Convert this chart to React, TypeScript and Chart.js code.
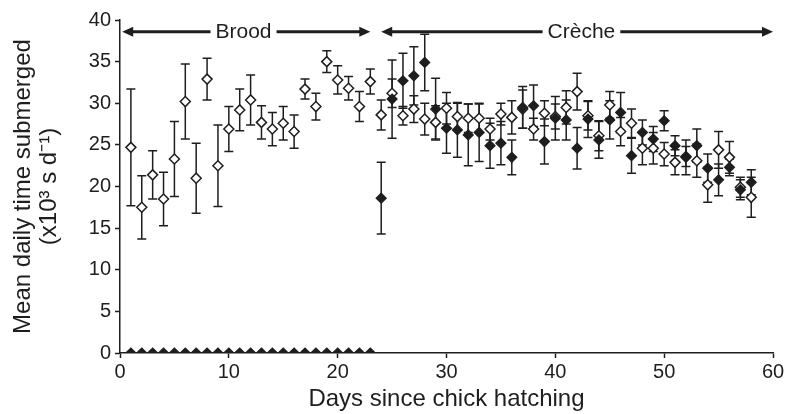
import React, { useEffect, useRef } from "react";
import { Chart, registerables } from "chart.js";

Chart.register(...registerables);

// ---- Data ----
const openDays = [1, 2, 3, 4, 5, 6, 7, 8, 9, 10, 11, 12, 13, 14, 15, 16, 17, 18, 19, 20, 21, 22, 23, 24, 25, 26, 27, 28, 29, 30, 31, 32, 33, 34, 35, 36, 37, 38, 39, 40, 41, 42, 43, 44, 45, 46, 47, 48, 49, 50, 51, 52, 53, 54, 55, 56, 57, 58];
const openMean = [24.7, 17.5, 21.4, 18.5, 23.3, 30.2, 21.0, 32.9, 22.5, 26.9, 29.2, 30.4, 27.7, 26.9, 27.6, 26.6, 31.7, 29.6, 35.0, 32.8, 31.8, 29.6, 32.6, 28.6, 31.2, 28.5, 29.3, 28.1, 27.7, 29.4, 28.4, 28.2, 28.2, 26.9, 28.7, 28.3, 29.3, 26.9, 28.8, 28.4, 29.5, 31.4, 28.5, 26.1, 29.8, 26.6, 27.6, 24.6, 24.6, 23.9, 22.9, 23.6, 23.1, 20.2, 24.4, 23.5, 19.9, 18.7];
const openErr = [7.0, 3.8, 2.9, 3.2, 4.5, 4.5, 4.2, 2.5, 4.9, 2.7, 2.5, 3.0, 2.0, 2.0, 2.0, 2.0, 1.2, 1.6, 1.3, 1.7, 1.4, 1.8, 1.5, 1.8, 1.7, 1.1, 1.6, 1.9, 2.0, 1.9, 1.6, 1.7, 1.7, 1.3, 1.3, 2.0, 2.3, 1.3, 1.5, 1.5, 2.0, 2.2, 1.7, 1.8, 1.6, 1.7, 1.7, 2.0, 1.9, 1.4, 1.5, 1.2, 2.0, 2.1, 2.2, 1.9, 1.2, 2.4];

const filledDays = [1, 2, 3, 4, 5, 6, 7, 8, 9, 10, 11, 12, 13, 14, 15, 16, 17, 18, 19, 20, 21, 22, 23, 24, 25, 26, 27, 28, 29, 30, 31, 32, 33, 34, 35, 36, 37, 38, 39, 40, 41, 42, 43, 44, 45, 46, 47, 48, 49, 50, 51, 52, 53, 54, 55, 56, 57, 58];
const filledMean = [0, 0, 0, 0, 0, 0, 0, 0, 0, 0, 0, 0, 0, 0, 0, 0, 0, 0, 0, 0, 0, 0, 0, 18.6, 30.5, 32.7, 33.3, 34.9, 29.3, 27.0, 26.8, 26.2, 26.5, 24.9, 25.2, 23.5, 29.5, 29.7, 25.4, 28.2, 28.0, 24.6, 28.1, 25.6, 28.0, 28.9, 23.7, 26.5, 25.7, 27.9, 24.9, 23.5, 24.9, 22.2, 20.8, 22.3, 19.6, 20.5];
const filledErr = [0, 0, 0, 0, 0, 0, 0, 0, 0, 0, 0, 0, 0, 0, 0, 0, 0, 0, 0, 0, 0, 0, 0, 4.3, 4.7, 3.3, 3.5, 3.4, 3.7, 3.0, 3.3, 3.7, 3.5, 2.7, 2.6, 2.1, 2.5, 2.5, 2.7, 2.6, 2.4, 2.5, 2.2, 2.2, 2.3, 2.4, 2.1, 1.5, 1.5, 1.2, 1.2, 2.1, 2.0, 1.7, 1.9, 1.0, 1.2, 1.5];

const phaseNames = ["Brood", "Crèche"];
const phaseStart = [0.2, 24];
const phaseEnd = [23, 60];
const phaseLabelAt = [11.35, 42.4];
const phaseLevel = 38.6;

const xTicksMin = 0;
const xTicksMax = 60;
const yTicksMin = 0;
const yTicksMax = 40;

const FONT = "'Liberation Sans', Arial, Helvetica, sans-serif";
const INK = "#1e1e1e";

const errorBarPlugin = {
  id: "errorBars",
  beforeDatasetsDraw(chart: any) {
    const { ctx, scales } = chart;
    const xs = scales.x;
    const ys = scales.y;
    ctx.save();
    ctx.strokeStyle = INK;
    ctx.lineWidth = 1.5;
    chart.data.datasets.forEach((ds: any) => {
      const errs = ds.errors;
      if (!errs) return;
      ds.data.forEach((p: any, i: number) => {
        const e = errs[i];
        if (!e) return;
        const px = xs.getPixelForValue(p.x);
        const top = ys.getPixelForValue(p.y + e);
        const bot = ys.getPixelForValue(p.y - e);
        ctx.beginPath();
        ctx.moveTo(px, top);
        ctx.lineTo(px, bot);
        ctx.moveTo(px - 4.5, top);
        ctx.lineTo(px + 4.5, top);
        ctx.moveTo(px - 4.5, bot);
        ctx.lineTo(px + 4.5, bot);
        ctx.stroke();
      });
    });
    ctx.restore();
  },
};

const phasePlugin = {
  id: "phases",
  afterDraw(chart: any) {
    const { ctx, scales } = chart;
    const xs = scales.x;
    const ys = scales.y;
    const py = ys.getPixelForValue(phaseLevel);
    ctx.save();
    ctx.font = `21px ${FONT}`;
    ctx.textAlign = "center";
    ctx.textBaseline = "middle";
    phaseNames.forEach((name, i) => {
      const x0 = xs.getPixelForValue(phaseStart[i]);
      const x1 = xs.getPixelForValue(phaseEnd[i]);
      const xc = xs.getPixelForValue(phaseLabelAt[i]);
      const w = ctx.measureText(name).width;
      const gap = 5;
      const head = 11;
      const hh = 5;
      ctx.strokeStyle = INK;
      ctx.fillStyle = INK;
      ctx.lineWidth = 3;
      ctx.beginPath();
      ctx.moveTo(x0 + head - 1, py);
      ctx.lineTo(xc - w / 2 - gap, py);
      ctx.moveTo(xc + w / 2 + gap, py);
      ctx.lineTo(x1 - head + 1, py);
      ctx.stroke();
      ctx.beginPath();
      ctx.moveTo(x0, py);
      ctx.lineTo(x0 + head, py - hh);
      ctx.lineTo(x0 + head, py + hh);
      ctx.closePath();
      ctx.fill();
      ctx.beginPath();
      ctx.moveTo(x1, py);
      ctx.lineTo(x1 - head, py - hh);
      ctx.lineTo(x1 - head, py + hh);
      ctx.closePath();
      ctx.fill();
      ctx.fillText(name, xc, py + 1);
    });
    ctx.restore();
  },
};

export default function App() {
  const ref = useRef<HTMLCanvasElement | null>(null);

  useEffect(() => {
    if (!ref.current) return;
    const filledData = filledDays.map((d, i) => ({ x: d, y: filledMean[i] }));
    const openData = openDays.map((d, i) => ({ x: d, y: openMean[i] }));
    const chart = new Chart(ref.current, {
      type: "scatter",
      data: {
        datasets: [
          {
            label: "Filled",
            data: filledData,
            errors: filledErr,
            pointStyle: "rectRot",
            pointRadius: 5,
            pointBackgroundColor: INK,
            pointBorderColor: INK,
            pointBorderWidth: 1.2,
          } as any,
          {
            label: "Open",
            data: openData,
            errors: openErr,
            pointStyle: "rectRot",
            pointRadius: 5,
            pointBackgroundColor: "#ffffff",
            pointBorderColor: INK,
            pointBorderWidth: 1.5,
          } as any,
        ],
      },
      options: {
        responsive: false,
        animation: false,
        events: [],
        layout: { padding: { top: 20, right: 14, left: 0, bottom: 0 } },
        plugins: {
          legend: { display: false },
          tooltip: { enabled: false },
        },
        scales: {
          x: {
            type: "linear",
            min: xTicksMin,
            max: xTicksMax,
            afterFit: (s: any) => {
              s.height = 61;
            },
            ticks: {
              stepSize: 10,
              color: INK,
              font: { family: FONT, size: 20 },
              padding: 2,
            },
            grid: {
              drawOnChartArea: false,
              drawTicks: true,
              tickLength: 5,
              tickColor: INK,
              tickWidth: 1.5,
            },
            border: { color: INK, width: 1.5 },
            title: {
              display: true,
              text: "Days since chick hatching",
              color: INK,
              font: { family: FONT, size: 24, lineHeight: 1.1 },
              padding: { top: 0, bottom: 1 },
            },
          },
          y: {
            min: yTicksMin,
            max: yTicksMax,
            afterFit: (s: any) => {
              s.width = 120;
            },
            ticks: {
              stepSize: 5,
              color: INK,
              font: { family: FONT, size: 20 },
              padding: 4,
            },
            grid: {
              drawOnChartArea: false,
              drawTicks: true,
              tickLength: 5,
              tickColor: INK,
              tickWidth: 1.5,
            },
            border: { color: INK, width: 1.5 },
            title: {
              display: true,
              text: ["Mean daily time submerged", "(x10³ s d⁻¹)"],
              color: INK,
              font: { family: FONT, size: 24, lineHeight: 1.1 },
              padding: { top: 10, bottom: 0 },
            },
          },
        },
      },
      plugins: [errorBarPlugin, phasePlugin],
    } as any);
    return () => chart.destroy();
  }, []);

  return (
    <div
      style={{
        position: "fixed",
        left: 0,
        top: 0,
        width: 787,
        height: 414,
        background: "#ffffff",
      }}
    >
      <canvas ref={ref} width={787} height={414} style={{ display: "block" }} />
    </div>
  );
}
